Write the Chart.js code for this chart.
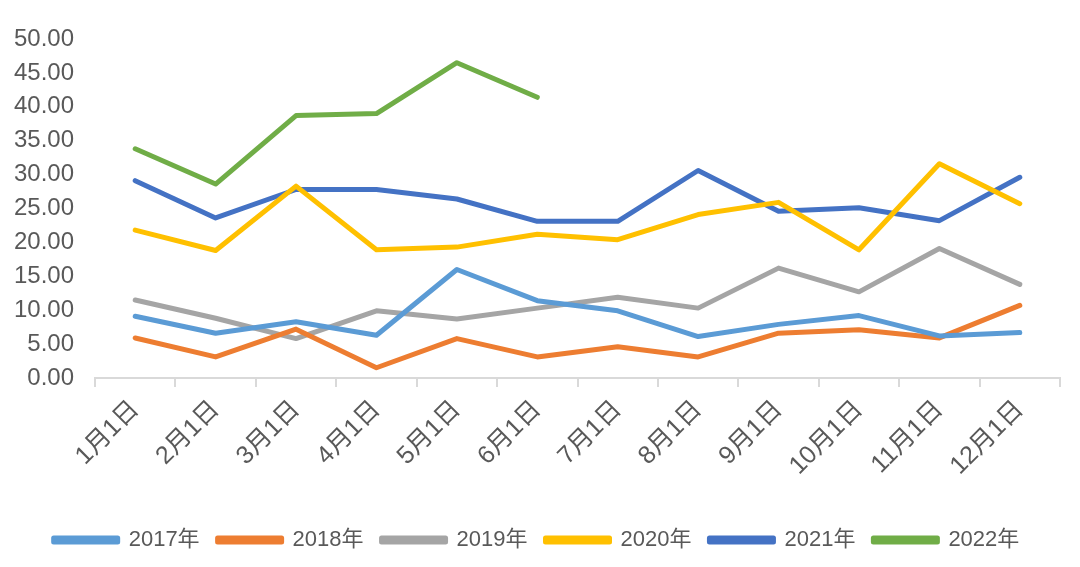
<!DOCTYPE html>
<html>
<head>
<meta charset="utf-8">
<script src="https://cdn.jsdelivr.net/npm/chart.js@4/dist/chart.umd.min.js"></script>
<style>
  html, body { margin: 0; padding: 0; background: #fff; }
  #wrap { width: 1080px; height: 567px; }
</style>
</head>
<body>
<div id="wrap"><canvas id="lineChart" width="1080" height="567"></canvas></div>
<script>
const months = ['1月1日', '2月1日', '3月1日', '4月1日', '5月1日', '6月1日',
                '7月1日', '8月1日', '9月1日', '10月1日', '11月1日', '12月1日'];

const y2017 = [9.1, 6.6, 8.3, 6.3, 16.0, 11.4, 9.9, 6.1, 7.9, 9.2, 6.2, 6.7];
const y2018 = [5.9, 3.1, 7.2, 1.5, 5.8, 3.1, 4.6, 3.1, 6.6, 7.1, 5.9, 10.7];
const y2019 = [11.5, 8.8, 5.8, 9.9, 8.7, 10.3, 11.9, 10.3, 16.2, 12.7, 19.1, 13.8];
const y2020 = [21.8, 18.8, 28.3, 18.9, 19.3, 21.2, 20.4, 24.1, 25.9, 18.9, 31.6, 25.7];
const y2021 = [29.1, 23.6, 27.8, 27.8, 26.4, 23.1, 23.1, 30.6, 24.6, 25.1, 23.2, 29.6];
const y2022 = [33.8, 28.6, 38.7, 39.0, 46.5, 41.4];

const fontFamily = "'Liberation Sans', 'Noto Sans CJK SC', sans-serif";
const textColor = '#595959';

function series(label, data, color) {
    return {
        label: label,
        data: data,
        borderColor: color,
        backgroundColor: color,
        borderWidth: 5,
        borderJoinStyle: 'round',
        borderCapStyle: 'round',
        fill: false,
        tension: 0,
        pointRadius: 0
    };
}

const ctx = document.getElementById('lineChart').getContext('2d');
const lineChart = new Chart(ctx, {
    type: 'line',
    data: {
        labels: months,
        datasets: [
            series('2017年', y2017, '#5B9BD5'),
            series('2018年', y2018, '#ED7D31'),
            series('2019年', y2019, '#A5A5A5'),
            series('2020年', y2020, '#FFC000'),
            series('2021年', y2021, '#4472C4'),
            series('2022年', y2022, '#70AD47')
        ]
    },
    options: {
        responsive: false,
        animation: false,
        layout: {
            padding: { left: 13, right: 20, top: 39, bottom: 6 }
        },
        plugins: {
            legend: {
                display: true,
                position: 'bottom',
                labels: {
                    color: textColor,
                    boxWidth: 64,
                    boxHeight: 4,
                    padding: 18,
                    font: { family: fontFamily, size: 22 }
                }
            },
            tooltip: { enabled: false }
        },
        scales: {
            x: {
                offset: true,
                grid: {
                    display: true,
                    offset: true,
                    drawOnChartArea: false,
                    drawTicks: true,
                    tickLength: 9,
                    color: '#d9d9d9',
                    lineWidth: 2
                },
                border: { display: true, color: '#d9d9d9', width: 2 },
                ticks: {
                    color: textColor,
                    minRotation: 45,
                    maxRotation: 45,
                    autoSkip: false,
                    padding: 8,
                    font: { family: fontFamily, size: 25 }
                },
                afterFit: function (scale) {
                    scale.height += 22;
                    scale.paddingLeft = 0;
                }
            },
            y: {
                min: 0,
                max: 50,
                grid: { display: false, drawTicks: false },
                border: { display: false },
                ticks: {
                    stepSize: 5,
                    color: textColor,
                    padding: 21,
                    font: { family: fontFamily, size: 24 },
                    callback: function (v) { return Number(v).toFixed(2); }
                },
                // labels + gap only, so the plot starts where the original does
                afterFit: function (scale) { scale.width = 82; }
            }
        }
    }
});
</script>
</body>
</html>
